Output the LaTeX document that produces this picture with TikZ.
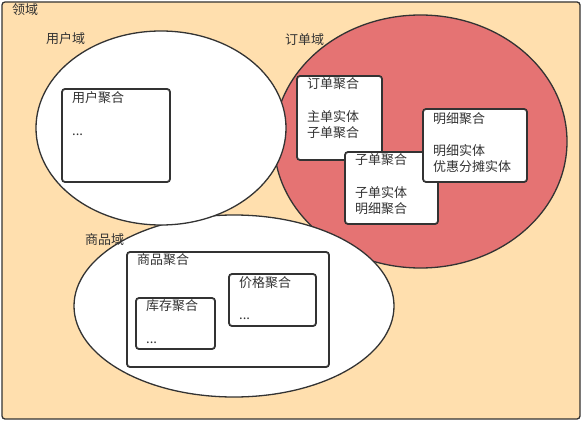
\documentclass[tikz,border=0pt]{standalone}
\usepackage{fontspec}
\usetikzlibrary{shapes.geometric}
\newfontfamily\cjk{Noto Sans CJK SC}
\definecolor{linegray}{HTML}{333333}
\definecolor{textgray}{HTML}{333333}
\definecolor{orangebg}{HTML}{FFDFAE}
\definecolor{orderred}{HTML}{E57373}
\begin{document}
\begin{tikzpicture}[x=1pt,y=-1pt,
  domainshape/.style={ellipse, draw=linegray, line width=1.3pt, inner sep=0pt, outer sep=0pt},
  agg/.style={rectangle, draw=linegray, line width=1.8pt, rounded corners=3pt, fill=white, inner sep=0pt, outer sep=0pt},
  lbl/.style={anchor=west, inner sep=0pt, font=\cjk\fontsize{13}{16}\selectfont, text=textgray},
  dots/.style={anchor=base west, inner sep=0pt, font=\cjk\fontsize{13}{16}\selectfont, text=textgray}]
\useasboundingbox (0,0) rectangle (583,422);

% outer domain frame
\node[rectangle, draw=linegray, line width=1.3pt, fill=orangebg, rounded corners=3pt,
      minimum width=578pt, minimum height=417pt, inner sep=0pt] (domain) at (291,210.5) {};
\node[lbl] (domainlbl) at (12,10) {领域};

% sub-domains
\node[domainshape, fill=orderred, minimum width=293pt, minimum height=253pt] (orderdom) at (420.5,141.5) {};
\node[domainshape, fill=white, minimum width=320pt, minimum height=182pt] (goodsdom) at (234,306) {};
\node[domainshape, fill=white, minimum width=250pt, minimum height=194pt] (userdom) at (161,128) {};

\node[lbl] (userlbl) at (46,39) {用户域};
\node[lbl] (orderlbl) at (285,40) {订单域};
\node[lbl] (goodslbl) at (85,240) {商品域};

% user aggregate
\node[agg, minimum width=108pt, minimum height=93pt] (userAgg) at (116,135.5) {};
\node[lbl] (userAggT) at (72,98) {用户聚合};
\node[dots] (userAggD) at (72,136) {...};

% order aggregates
\node[agg, minimum width=85pt, minimum height=84pt] (orderAgg) at (339.5,118) {};
\node[lbl] (orderAggT) at (307,84) {订单聚合};
\node[lbl] (orderAggA) at (307,117) {主单实体};
\node[lbl] (orderAggB) at (307,132.5) {子单聚合};

\node[agg, minimum width=93pt, minimum height=72pt] (subAgg) at (391.5,188) {};
\node[lbl] (subAggT) at (355,160) {子单聚合};
\node[lbl] (subAggA) at (355,193) {子单实体};
\node[lbl] (subAggB) at (355,209) {明细聚合};

\node[agg, minimum width=104pt, minimum height=73pt] (detailAgg) at (475,145.5) {};
\node[lbl] (detailAggT) at (433,118.5) {明细聚合};
\node[lbl] (detailAggA) at (433,151) {明细实体};
\node[lbl] (detailAggB) at (433,167) {优惠分摊实体};

% goods aggregates
\node[agg, minimum width=202pt, minimum height=115pt] (goodsAgg) at (228,309.5) {};
\node[lbl] (goodsAggT) at (137,260) {商品聚合};

\node[agg, minimum width=79pt, minimum height=51pt] (stockAgg) at (175.5,323.5) {};
\node[lbl] (stockAggT) at (146,306) {库存聚合};
\node[dots] (stockAggD) at (146,343) {...};

\node[agg, minimum width=87pt, minimum height=52pt] (priceAgg) at (272.5,300) {};
\node[lbl] (priceAggT) at (239,283) {价格聚合};
\node[dots] (priceAggD) at (239,319) {...};
\end{tikzpicture}
\end{document}
